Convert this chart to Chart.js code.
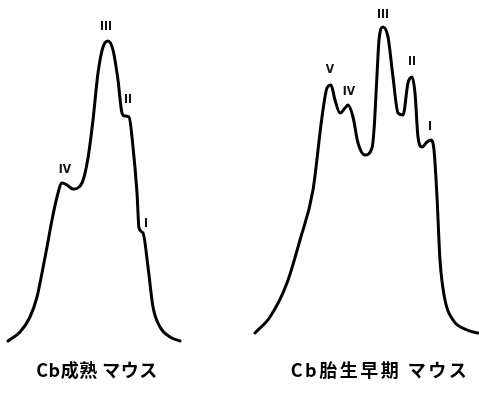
<!DOCTYPE html>
<html>
<head>
<meta charset="utf-8">
<script src="https://cdn.jsdelivr.net/npm/chart.js@4"></script>
<style>
  html, body { margin: 0; padding: 0; background: #fff; overflow: hidden; }
  #wrap { position: relative; width: 479px; height: 396px; overflow: hidden; }
  #wrap canvas { position: absolute; top: 0; }
</style>
</head>
<body>
<div id="wrap">
  <canvas id="matureChart" width="194" height="396" style="left:0"></canvas>
  <canvas id="fetalChart" width="280" height="396" style="left:240px"></canvas>
</div>
<script>
// Cb成熟マウス - elution profile (position, height)
const matureX = [8, 20, 30, 37, 42, 47, 52, 57, 62, 67, 73, 82, 88, 93, 98, 103, 108, 113, 118, 122, 125, 129, 133, 137, 139, 143, 148, 153, 160, 170, 180];
const matureY = [0, 9, 24, 44, 68, 94, 121, 144, 158, 156, 152, 158, 183, 221, 268, 294, 300, 291, 261, 228, 225, 224, 194, 148, 113, 108, 74, 34, 14, 4, 0];
const matureTags = ['IV', 'III', 'II', 'I'];
const matureTagX = [65, 106, 128, 146];
const matureTagY = [171, 314, 241, 117];

// Cb胎生早期マウス
const fetalX = [15, 30, 47, 60, 73, 82, 87, 91, 95, 100, 105, 108, 113, 118, 125, 132, 134, 137, 139, 143, 148, 153, 158, 163, 168, 172, 175, 178, 182, 187, 191, 194, 197, 200, 205, 213, 227, 238];
const fetalY = [8, 24, 58, 101, 151, 224, 253, 256, 241, 228, 233, 236, 224, 198, 186, 193, 211, 266, 301, 314, 304, 264, 228, 226, 258, 264, 248, 204, 194, 199, 201, 191, 144, 81, 41, 21, 11, 8];
const fetalTags = ['V', 'IV', 'III', 'II', 'I'];
const fetalTagX = [90, 109, 143, 172, 190];
const fetalTagY = [271, 249, 326, 279, 214];

const captions = ['Cb成熟 マウス', 'Cb胎生早期 マウス'];

// キャプションの字間
const captionSpacing = {
    id: 'captionSpacing',
    beforeDraw(chart, args, opts) {
        chart.ctx.letterSpacing = opts.spacing || '0px';
    },
    afterDraw(chart) {
        chart.ctx.letterSpacing = '0px';
    }
};

// ピーク番号を描く
const peakLabels = {
    id: 'peakLabels',
    afterDatasetsDraw(chart, args, opts) {
        const ctx = chart.ctx;
        const xs = chart.scales.x;
        const ys = chart.scales.y;
        ctx.save();
        ctx.letterSpacing = '0px';
        ctx.fillStyle = '#111';
        ctx.font = 'bold 12px "DejaVu Sans Condensed", "DejaVu Sans", sans-serif';
        ctx.textAlign = 'center';
        ctx.textBaseline = 'middle';
        opts.tags.forEach((t, i) => {
            ctx.fillText(t, xs.getPixelForValue(opts.tagX[i]), ys.getPixelForValue(opts.tagY[i]));
        });
        ctx.restore();
    }
};

function makeChart(id, xs, ys, xMax, tags, tagX, tagY, caption, spacing) {
    const ctx = document.getElementById(id).getContext('2d');
    return new Chart(ctx, {
        type: 'line',
        data: {
            datasets: [{
                data: xs.map((x, i) => ({ x: x, y: ys[i] })),
                borderColor: '#000',
                borderWidth: 3,
                pointRadius: 0,
                cubicInterpolationMode: 'monotone',
                borderCapStyle: 'round',
                borderJoinStyle: 'round',
                fill: false,
                clip: false
            }]
        },
        options: {
            responsive: false,
            animation: false,
            devicePixelRatio: 1,
            layout: { padding: 0 },
            scales: {
                x: { type: 'linear', min: 0, max: xMax, display: false },
                y: { min: -6.4, max: 341, display: false }
            },
            plugins: {
                legend: { display: false },
                tooltip: { enabled: false },
                title: {
                    display: true,
                    position: 'bottom',
                    text: caption,
                    color: '#000',
                    font: { family: '"Noto Sans CJK JP", sans-serif', size: 18, weight: 'bold' },
                    padding: { top: 12, bottom: 15 }
                },
                captionSpacing: { spacing: spacing },
                peakLabels: { tags: tags, tagX: tagX, tagY: tagY }
            }
        },
        plugins: [captionSpacing, peakLabels]
    });
}

makeChart('matureChart', matureX, matureY, 194, matureTags, matureTagX, matureTagY, captions[0], '0.5px');
makeChart('fetalChart', fetalX, fetalY, 280, fetalTags, fetalTagX, fetalTagY, captions[1], '2.5px');
</script>
</body>
</html>
